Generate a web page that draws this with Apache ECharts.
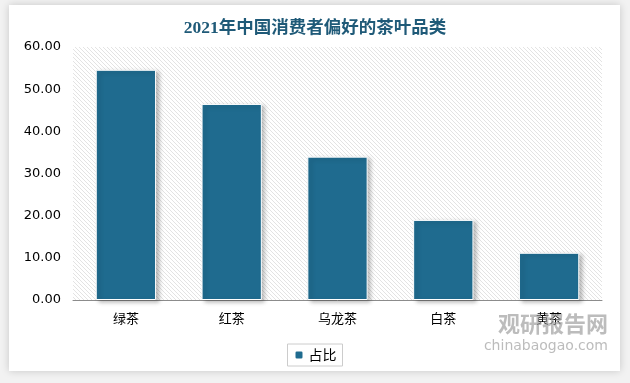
<!DOCTYPE html>
<html><head><meta charset="utf-8">
<script src="https://cdn.jsdelivr.net/npm/echarts@6/dist/echarts.min.js"></script>
<style>html,body{margin:0;padding:0;background:#f2f2f2;}#c{width:630px;height:383px;}</style>
</head><body><div id="c"></div>
<script>
const title = '2021年中国消费者偏好的茶叶品类';
const categories = ['绿茶', '红茶', '乌龙茶', '白茶', '黄茶'];
const seriesName = '占比';
const values = [54.6, 46.5, 34.0, 19.0, 11.2];
const yTicks = [0, 10, 20, 30, 40, 50, 60];

function hatch() {
  const c = document.createElement('canvas');
  c.width = 4; c.height = 4;
  const g = c.getContext('2d');
  g.fillStyle = '#ffffff'; g.fillRect(0, 0, 4, 4);
  g.strokeStyle = '#dcdcdc'; g.lineWidth = 0.8;
  g.beginPath();
  g.moveTo(0, 0); g.lineTo(4, 4);
  g.moveTo(-2, 2); g.lineTo(2, 6);
  g.moveTo(2, -2); g.lineTo(6, 2);
  g.stroke();
  return c;
}

const chart = echarts.init(document.getElementById('c'), null, {renderer: 'canvas'});
chart.setOption({
  backgroundColor: '#f2f2f2',
  animation: false,
  graphic: [
    {type: 'rect', z: -10, shape: {x: 9, y: 5, width: 611, height: 366},
     style: {fill: '#ffffff', shadowBlur: 8, shadowColor: 'rgba(0,0,0,0.18)'}},
    {type: 'text', right: 22, bottom: 48, z: 100,
     style: {text: '观研报告网', fill: 'rgba(160,160,160,0.7)', font: 'bold 22px "Noto Sans CJK SC"'}},
    {type: 'text', right: 22, bottom: 30, z: 100,
     style: {text: 'chinabaogao.com', fill: 'rgba(160,160,160,0.7)', font: '14px "DejaVu Sans"'}}
  ],
  title: {
    text: title, left: 'center', top: 15,
    textStyle: {color: '#1f5a78', fontSize: 17.5, fontWeight: 'bold', fontFamily: '"Liberation Serif", "Noto Sans CJK SC"'}
  },
  legend: {
    data: [seriesName], bottom: 17, left: 'center',
    itemWidth: 9, itemHeight: 9, borderColor: '#cccccc', borderWidth: 1, padding: [4, 6],
    textStyle: {color: '#000', fontSize: 14, fontFamily: '"Noto Sans CJK SC"'}
  },
  grid: {left: 73, right: 28, top: 47, bottom: 83, show: true, borderWidth: 0,
    backgroundColor: {image: hatch(), repeat: 'repeat'}},
  xAxis: {
    type: 'category', data: categories,
    axisLine: {lineStyle: {color: '#8c8c8c', width: 1}},
    axisTick: {show: false},
    axisLabel: {color: '#000', fontSize: 13, margin: 12, fontFamily: '"Noto Sans CJK SC"'}
  },
  yAxis: {
    type: 'value', min: yTicks[0], max: yTicks[yTicks.length - 1], interval: 10,
    axisLine: {show: false}, axisTick: {show: false}, splitLine: {show: false},
    axisLabel: {color: '#000', fontSize: 13, margin: 12, fontFamily: '"DejaVu Sans"',
      formatter: v => v.toFixed(2)}
  },
  series: [{
    name: seriesName, type: 'bar', data: values, barWidth: '57%',
    itemStyle: {color: '#1f6b8f', borderColor: '#ffffff', borderWidth: 1,
      shadowColor: 'rgba(0,0,0,0.25)', shadowBlur: 4, shadowOffsetX: 3, shadowOffsetY: 2}
  }]
});
</script></body></html>
